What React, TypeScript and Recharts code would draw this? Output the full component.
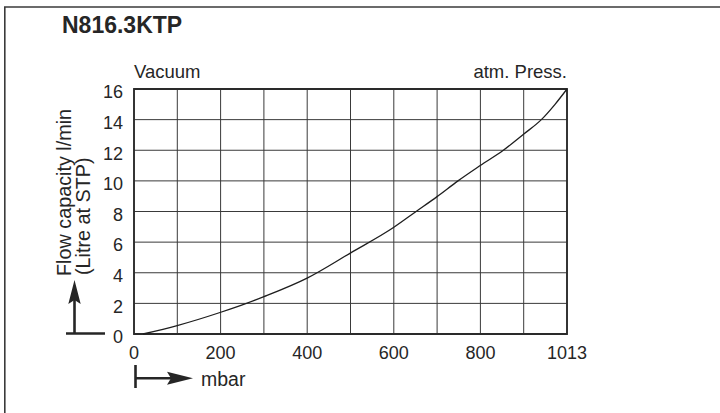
import React from "react";
import { LineChart, Line, XAxis, YAxis, CartesianGrid, ReferenceArea } from "recharts";

const pressureMbar = [21, 101, 203, 263, 304, 405, 507, 608, 660, 709, 758, 810, 864, 912, 953, 985, 1013];
const flowLpm = [0, 0.55, 1.42, 2.0, 2.44, 3.65, 5.3, 6.97, 8.0, 8.97, 10.0, 11.0, 12.0, 13.06, 14.0, 15.0, 16.0];
const xTicks = [0, 101.3, 202.6, 303.9, 405.2, 506.5, 607.8, 709.1, 810.4, 911.7, 1013];
const xTickLabels = ["0", "", "200", "", "400", "", "600", "", "800", "", "1013"];
const yTicks = [0, 2, 4, 6, 8, 10, 12, 14, 16];

const data = pressureMbar.map((p, i) => ({ p, f: flowLpm[i] }));

const FONT = '"Liberation Sans", Arial, Helvetica, sans-serif';
const INK = "#262626";

const XTick = (props: any) => {
  const { x, y, index } = props;
  const label = xTickLabels[index] ?? "";
  return (
    <text x={x} y={y + 23.3} textAnchor="middle" fontSize={18} fill={INK} fontFamily={FONT}>
      {label}
    </text>
  );
};

const YTick = (props: any) => {
  const { x, y, payload } = props;
  return (
    <text x={x} y={y + 9.3} textAnchor="end" fontSize={18} fill={INK} fontFamily={FONT}>
      {payload.value}
    </text>
  );
};

export default function App() {
  return (
    <div style={{ position: "fixed", left: 0, top: 0, width: 720, height: 413, background: "#fff" }}>
      <LineChart
        width={720}
        height={413}
        data={data}
        margin={{ top: 89, right: 153, bottom: 49, left: 94 }}
      >
        <CartesianGrid stroke="#3a3a3a" strokeWidth={1} />
        <XAxis
          dataKey="p"
          type="number"
          domain={[0, 1013]}
          ticks={xTicks}
          interval={0}
          tickLine={false}
          axisLine={false}
          tickSize={0}
          height={30}
          tick={<XTick />}
        />
        <YAxis
          type="number"
          domain={[0, 16]}
          ticks={yTicks}
          interval={0}
          tickLine={false}
          axisLine={false}
          tickSize={0}
          tickMargin={11}
          width={40}
          tick={<YTick />}
        />
        <ReferenceArea x1={0} x2={1013} y1={0} y2={16} fill="none" stroke="#2a2a2a" strokeWidth={1.8} ifOverflow="visible" />
        <Line
          dataKey="f"
          type="monotone"
          stroke="#1e1e1e"
          strokeWidth={1.3}
          dot={false}
          isAnimationActive={false}
        />
      </LineChart>
      <svg
        width={720}
        height={413}
        style={{ position: "absolute", left: 0, top: 0, pointerEvents: "none" }}
        fontFamily={FONT}
      >
        <line x1={4} y1={7} x2={720} y2={7} stroke="#3a3a3a" strokeWidth={1.6} />
        <line x1={4.8} y1={7} x2={4.8} y2={413} stroke="#3a3a3a" strokeWidth={1.6} />
        <text x={62} y={33.3} fontSize={23} fontWeight="bold" fill={INK}>N816.3KTP</text>
        <text x={134} y={77.7} fontSize={18.5} fill={INK}>Vacuum</text>
        <text x={567} y={77.7} fontSize={18.5} fill={INK} textAnchor="end">atm. Press.</text>
        <text transform="translate(70.7,276) rotate(-90)" fontSize={19.8} fill={INK}>Flow capacity l/min</text>
        <text transform="translate(89.5,275) rotate(-90)" fontSize={19.8} fill={INK}>(Litre at STP)</text>
        <line x1={66} y1={333.5} x2={105} y2={333.5} stroke={INK} strokeWidth={2.6} />
        <line x1={74.5} y1={333} x2={74.5} y2={298} stroke={INK} strokeWidth={2.6} />
        <polygon points="74.5,280 80.7,304 74.5,300 68.3,304" fill={INK} />
        <line x1={135.5} y1={365} x2={135.5} y2={388} stroke={INK} strokeWidth={2.6} />
        <line x1={135.5} y1={378.3} x2={175} y2={378.3} stroke={INK} strokeWidth={2.4} />
        <polygon points="193,378.3 167,371.8 171,378.3 167,384.8" fill={INK} />
        <text x={201} y={386} fontSize={19.5} fill={INK}>mbar</text>
      </svg>
    </div>
  );
}
